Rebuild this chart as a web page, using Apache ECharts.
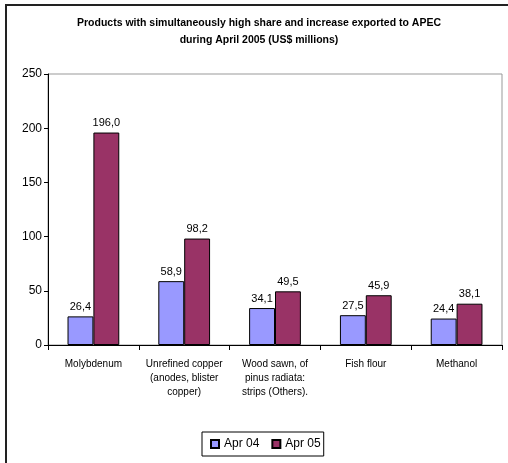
<!DOCTYPE html>
<html>
<head>
<meta charset="utf-8">
<script src="https://cdn.jsdelivr.net/npm/echarts@6/dist/echarts.min.js"></script>
<style>
  html, body { margin: 0; padding: 0; background: #fff; }
  #chart { width: 508px; height: 463px; }
</style>
</head>
<body>
<div id="chart"></div>
<script>
// Export values to APEC, US$ millions
const categories = [
  'Molybdenum',
  'Unrefined copper\n(anodes, blister\ncopper)',
  'Wood sawn, of\npinus radiata:\nstrips (Others).',
  'Fish flour',
  'Methanol'
];
const apr04 = [26.4, 58.9, 34.1, 27.5, 24.4];
const apr05 = [196.0, 98.2, 49.5, 45.9, 38.1];
const seriesNames = ['Apr 04', 'Apr 05'];
const yTicks = { min: 0, max: 250, interval: 50 };

const font = 'Liberation Sans, Arial, sans-serif';
const fmt = p => p.value.toFixed(1).replace('.', ',');

const chart = echarts.init(document.getElementById('chart'), null, { renderer: 'canvas' });

const labelStyle = {
  show: true,
  position: 'top',
  distance: 4,
  formatter: fmt,
  color: '#000',
  fontFamily: font,
  fontSize: 11
};

chart.setOption({
  animation: false,
  backgroundColor: '#fff',
  title: {
    text: 'Products with simultaneously high share and increase exported to APEC\nduring April 2005 (US$ millions)',
    left: 254,
    textAlign: 'center',
    top: 10,
    textStyle: {
      fontFamily: font,
      fontSize: 10.5,
      fontWeight: 'bold',
      color: '#000',
      lineHeight: 17
    }
  },
  legend: {
    bottom: 7,
    left: 202,
    itemWidth: 8,
    itemHeight: 8,
    itemGap: 12,
    padding: [6, 3, 6, 8],
    borderColor: '#000',
    borderWidth: 1,
    borderRadius: 0,
    icon: 'rect',
    textStyle: { fontFamily: font, fontSize: 12, color: '#000' },
    data: seriesNames
  },
  grid: {
    left: 48,
    right: 6,
    top: 74,
    bottom: 118,
    show: true,
    borderColor: '#999',
    borderWidth: 1,
    backgroundColor: '#fff'
  },
  xAxis: {
    type: 'category',
    data: categories,
    axisLine: { lineStyle: { color: '#000', width: 1 } },
    axisTick: { show: true, alignWithLabel: false, length: 5, lineStyle: { color: '#000' } },
    axisLabel: {
      interval: 0,
      margin: 12,
      fontFamily: font,
      fontSize: 10,
      color: '#000',
      lineHeight: 14
    }
  },
  yAxis: {
    type: 'value',
    min: yTicks.min,
    max: yTicks.max,
    interval: yTicks.interval,
    splitLine: { show: false },
    axisLine: { show: true, lineStyle: { color: '#000', width: 1 } },
    axisTick: { show: true, length: 4, lineStyle: { color: '#000' } },
    axisLabel: { fontFamily: font, fontSize: 12, color: '#000', margin: 6 }
  },
  series: [
    {
      name: seriesNames[0],
      type: 'bar',
      data: apr04,
      barGap: '0%',
      barCategoryGap: '43%',
      itemStyle: { color: '#9999FF', borderColor: '#000', borderWidth: 1 },
      label: labelStyle
    },
    {
      name: seriesNames[1],
      type: 'bar',
      data: apr05,
      itemStyle: { color: '#993366', borderColor: '#000', borderWidth: 1 },
      label: labelStyle
    }
  ],
  graphic: [
    {
      type: 'polyline',
      silent: true,
      shape: { points: [[6, 470], [6, 5], [515, 5]] },
      style: { stroke: '#222', lineWidth: 2, fill: null }
    }
  ]
});
</script>
</body>
</html>
